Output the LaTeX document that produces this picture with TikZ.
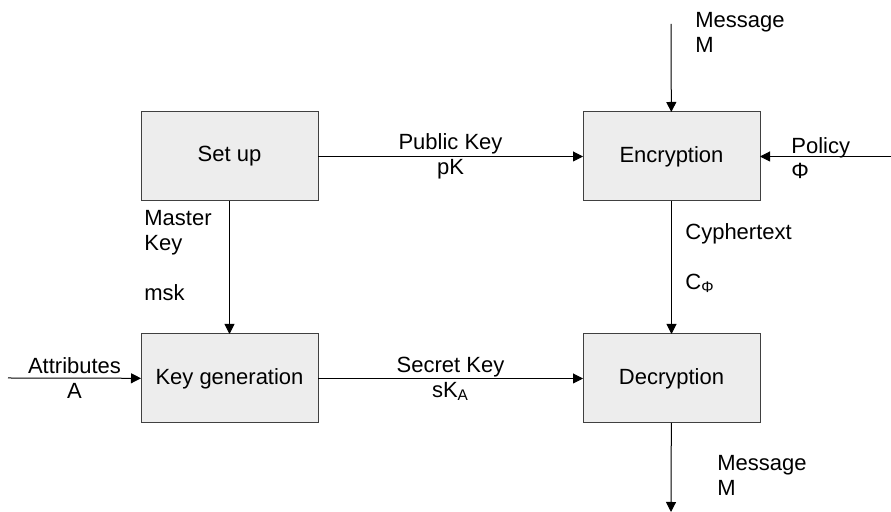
\documentclass[tikz,border=0pt]{standalone}
\usepackage{fontspec}
\setmainfont{Liberation Sans}
\usetikzlibrary{positioning,arrows.meta}

\begin{document}
\begin{tikzpicture}[node distance = 66.5pt and 132.5pt,
BoxStyle/.style={draw=black!75, fill=black!7, line width=0.5pt,
                minimum width=88.5pt, minimum height=44.5pt,
                inner sep=0pt, outer sep=0pt},
LblStyle/.style={inner sep=0pt, font=\fontsize{11}{12.5}\selectfont},
ArrStyle/.style={line width=0.5pt, -{Triangle[length=5pt, width=5pt]}},]
\useasboundingbox (0,0) rectangle (445.5pt,-256pt);
\tikzset{every node/.append style={font=\fontsize{11}{12.5}\selectfont}}
\node [BoxStyle] at (114.75pt, -78.25pt) (setup) {Set up};
\node [BoxStyle, right=of setup] (enc) {Encryption};
\node [BoxStyle, below=of setup] (keygen) {Key generation};
\node [BoxStyle, below=of enc] (dec) {Decryption};

\coordinate (msgin) at (335.5pt, -12pt);
\coordinate (msgout) at (335.5pt, -256pt);
\coordinate (polin) at (445.5pt, -78.25pt);
\coordinate (attin) at (4pt, -189pt);

\draw [ArrStyle] (setup) -- node [LblStyle, align=center] {Public Key\\pK} (enc);
\draw [ArrStyle] (keygen) -- node [LblStyle, align=center] {Secret Key\\sK\textsubscript{A}} (dec);
\draw [ArrStyle] (setup) -- (keygen);
\draw [ArrStyle] (enc) -- (dec);
\draw [ArrStyle] (msgin) -- (enc);
\draw [ArrStyle] (dec) -- (msgout);
\draw [ArrStyle] (polin) -- (enc);
\draw [ArrStyle] (attin) -- node [LblStyle, align=center] {Attributes\\A} (keygen);

\node [LblStyle, align=left, anchor=west] at (347.5pt, -16pt) (msgtxt) {Message\\M};
\node [LblStyle, align=left, anchor=west] at (395.5pt, -79pt) (poltxt) {Policy\\Φ};
\node [LblStyle, align=left, anchor=west] at (342.5pt, -129pt) (cyptxt) {Cyphertext\\[12.5pt]C\textsubscript{Φ}};
\node [LblStyle, align=left, anchor=west] at (358.5pt, -237.5pt) (outtxt) {Message\\M};
\node [LblStyle, align=left, anchor=west] at (72pt, -128pt) (msktxt) {Master\\Key\\[12.5pt]msk};
\end{tikzpicture}
\end{document}
